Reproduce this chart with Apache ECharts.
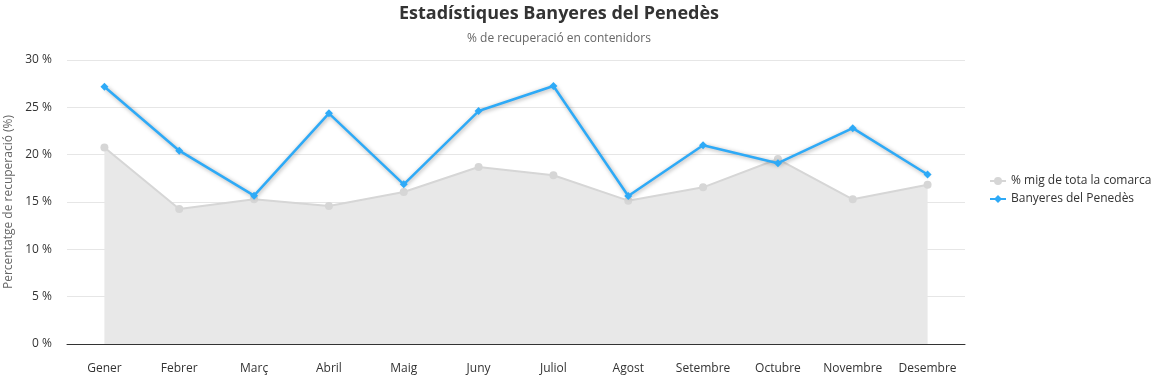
<!DOCTYPE html>
<html><head><meta charset="utf-8">
<script src="https://cdn.jsdelivr.net/npm/echarts@6/dist/echarts.min.js"></script>
<style>html,body{margin:0;padding:0;background:#fff}#c{width:1158px;height:376px}</style>
</head><body><div id="c"></div>
<script>
const categories = ['Gener','Febrer','Març','Abril','Maig','Juny','Juliol','Agost','Setembre','Octubre','Novembre','Desembre'];
const comarcaValues = [20.75,14.26,15.28,14.58,16.06,18.7,17.82,15.14,16.55,19.54,15.28,16.83];
const banyeresValues = [27.18,20.42,15.67,24.37,16.87,24.61,27.25,15.63,21.0,19.1,22.8,17.9];
const seriesNames = ['% mig de tota la comarca','Banyeres del Penedès'];
const FONT = 'Open Sans';
const chart = echarts.init(document.getElementById('c'));
chart.setOption({
  animation:false,
  textStyle:{fontFamily:FONT},
  title:{text:'Estadístiques Banyeres del Penedès',subtext:'% de recuperació en contenidors',left:554,textAlign:'center',top:0,itemGap:10,
    textStyle:{fontFamily:FONT,fontSize:18,fontWeight:'bold',color:'#333'},
    subtextStyle:{fontFamily:FONT,fontSize:12,color:'#666'}},
  legend:{orient:'vertical',left:985,top:170,itemGap:6,itemWidth:16,itemHeight:8,
    textStyle:{fontFamily:FONT,fontSize:12,color:'#333'},
    data:[{name:seriesNames[0],icon:'path://M0,3h16v2H0z M8,0a4,4 0 1,1 -0.001,0z'},
          {name:seriesNames[1],icon:'path://M0,3h16v2H0z M8,0l4,4l-4,4l-4,-4z'}]},
  grid:{left:67,right:193,top:60,bottom:32,outerBoundsMode:'none',containLabel:false},
  xAxis:{type:'category',data:categories,boundaryGap:true,
    axisLine:{lineStyle:{color:'#333',width:1}},axisTick:{show:false},
    axisLabel:{color:'#333',fontSize:12,margin:19,interval:0,fontFamily:FONT}},
  yAxis:{type:'value',min:0,max:30,interval:5,
    name:'Percentatge de recuperació (%)',nameLocation:'middle',nameGap:50,nameRotate:90,
    nameTextStyle:{color:'#666',fontSize:12,fontFamily:FONT},
    axisLabel:{formatter:'{value} %',color:'#333',fontSize:12,margin:15,fontFamily:FONT},
    splitLine:{lineStyle:{color:'#e6e6e6'}},axisLine:{show:false},axisTick:{show:false}},
  series:[
    {name:seriesNames[0],type:'line',data:comarcaValues,symbol:'circle',symbolSize:8,
      itemStyle:{color:'#d6d6d6'},lineStyle:{color:'#d6d6d6',width:2},
      areaStyle:{color:'#e8e8e8',opacity:1},z:1},
    {name:seriesNames[1],type:'line',data:banyeresValues,symbol:'diamond',symbolSize:8,
      itemStyle:{color:'#2eaaf7'},
      lineStyle:{color:'#2eaaf7',width:2.5,shadowColor:'rgba(0,0,0,0.35)',shadowBlur:4,shadowOffsetX:1,shadowOffsetY:1},z:3}
  ]
});
</script></body></html>
